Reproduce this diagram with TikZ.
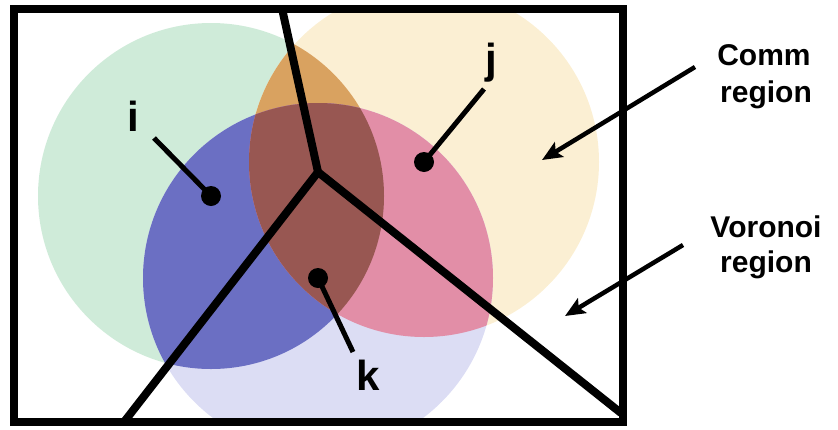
\documentclass[tikz,border=0pt]{standalone}
\usepackage{fontspec}
\setmainfont{Liberation Sans}
\usetikzlibrary{arrows.meta}
\definecolor{cgreen}{HTML}{CFEBD9}
\definecolor{cyellow}{HTML}{FBEFD3}
\definecolor{clav}{HTML}{DCDDF4}
\definecolor{corange}{HTML}{D9A260}
\definecolor{cblue}{HTML}{6B6FC3}
\definecolor{cpink}{HTML}{E28EA7}
\definecolor{cbrown}{HTML}{985752}
\tikzset{
  frame/.style={draw=black, line width=8pt},
  vorline/.style={draw=black, line width=8pt},
  dot/.style={circle, fill=black, inner sep=0pt, minimum size=20pt},
  leader/.style={draw=black, line width=5pt},
  lbl/.style={font=\fontsize{42}{46}\selectfont\bfseries, inner sep=0pt, anchor=base},
  side/.style={font=\fontsize{30}{35}\selectfont\bfseries, inner sep=0pt, anchor=base},
  pointer/.style={draw=black, line width=4.5pt, -{Stealth[length=20pt,width=17pt,inset=4pt]}}
}
\begin{document}
\begin{tikzpicture}[x=1pt,y=-1pt]
\useasboundingbox (0,0) rectangle (838,429);
% node centres
\coordinate (ci) at (211,196);
\coordinate (cj) at (424,162);
\coordinate (ck) at (318,278);
% regions
\begin{scope}
  \clip (14,8.5) rectangle (623,422);
  \fill[cgreen] (ci) circle[radius=173pt];
  \fill[cyellow] (cj) circle[radius=175pt];
  \fill[clav] (ck) circle[radius=175pt];
  \begin{scope}
    \clip (ci) circle[radius=173pt];
    \fill[corange] (cj) circle[radius=175pt];
  \end{scope}
  \begin{scope}
    \clip (ci) circle[radius=173pt];
    \fill[cblue] (ck) circle[radius=175pt];
  \end{scope}
  \begin{scope}
    \clip (cj) circle[radius=175pt];
    \fill[cpink] (ck) circle[radius=175pt];
  \end{scope}
  \begin{scope}
    \clip (ci) circle[radius=173pt];
    \clip (cj) circle[radius=175pt];
    \fill[cbrown] (ck) circle[radius=175pt];
  \end{scope}
\end{scope}
% Voronoi edges
\coordinate (v) at (318,172);
\coordinate (vt) at (282,8.5);
\coordinate (vl) at (124,422);
\coordinate (vr) at (621,413);
\begin{scope}
  \clip (14,8.5) rectangle (623,422);
  \draw[vorline] (v) -- (vt);
  \draw[vorline] (v) -- (vl);
  \draw[vorline] (v) -- (vr);
\end{scope}
% frame
\draw[frame] (14,8.5) rectangle (623,422);
% nodes
\node[dot] (i) at (ci) {};
\node[dot] (j) at (cj) {};
\node[dot] (k) at (ck) {};
\node[lbl] (ti) at (133,131) {i};
\node[lbl] (tj) at (491,73) {j};
\node[lbl] (tk) at (368,390) {k};
\coordinate (ei) at (154,138);
\coordinate (ej) at (484,89);
\coordinate (ek) at (353,352);
\draw[leader] (ei) -- (i.center);
\draw[leader] (ej) -- (j.center);
\draw[leader] (k.center) -- (ek);
% side labels
\node[side] (comm) at (764,65) {Comm};
\node[side] (commr) at (766,102) {region};
\node[side] (vor) at (766,237) {Voronoi};
\node[side] (vorr) at (766,272) {region};
\coordinate (ac) at (695,67);
\coordinate (acend) at (542,160);
\coordinate (av) at (683,245);
\coordinate (avend) at (565,316);
\draw[pointer] (ac) -- (acend);
\draw[pointer] (av) -- (avend);
\end{tikzpicture}
\end{document}
